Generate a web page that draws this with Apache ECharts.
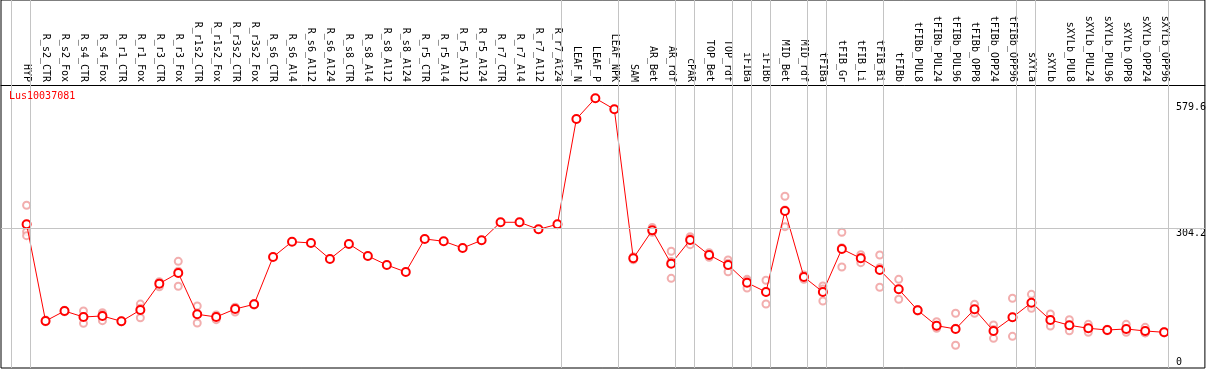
<!DOCTYPE html>
<html><head><meta charset="utf-8">
<script src="https://cdn.jsdelivr.net/npm/echarts@6.0.0/dist/echarts.min.js"></script>
<style>html,body{margin:0;padding:0;background:#fff}#c{width:1209px;height:370px}</style>
</head><body><div id="c"></div>
<script>
const geneId = 'Lus10037081';
const categories = ['HYP','R_s2_CTR','R_s2_Fox','R_s4_CTR','R_s4_Fox','R_r1_CTR','R_r1_Fox','R_r3_CTR','R_r3_Fox','R_r1s2_CTR','R_r1s2_Fox','R_r3s2_CTR','R_r3s2_Fox','R_s6_CTR','R_s6_Al4','R_s6_Al12','R_s6_Al24','R_s8_CTR','R_s8_Al4','R_s8_Al12','R_s8_Al24','R_r5_CTR','R_r5_Al4','R_r5_Al12','R_r5_Al24','R_r7_CTR','R_r7_Al4','R_r7_Al12','R_r7_Al24','LEAF_N','LEAF_P','LEAF_NPK','SAM','AR_Bet','AR_rdf','cPAR','TOP_Bet','TOP_rdf','iFIBa','iFIBb','MID_Bet','MID_rdf','tFIBa','tFIB_Gr','tFIB_Li','tFIB_Bi','tFIBb','tFIBb_PUL8','tFIBb_PUL24','tFIBb_PUL96','tFIBb_OPP8','tFIBb_OPP24','tFIBb_OPP96','sXYLa','sXYLb','sXYLb_PUL8','sXYLb_PUL24','sXYLb_PUL96','sXYLb_OPP8','sXYLb_OPP24','sXYLb_OPP96'];
const means = [313, 100.9, 122.8, 109.7, 111.9, 100.2, 125, 182.8, 206.2, 115.6, 109.7, 127.2, 137.5, 241.3, 274.8, 272, 236.9, 269.8, 243.5, 223.7, 208.4, 280.8, 275.7, 261, 277.9, 317.4, 317.4, 302, 313, 544, 589.4, 565.2, 238.4, 299.8, 226.6, 278.6, 245.7, 223.7, 184.9, 164.5, 342.2, 197.4, 164.5, 258.8, 238.4, 212.8, 170.4, 124.4, 90.6, 83.4, 126.6, 79, 109, 141, 103.1, 91.5, 84.9, 81.2, 83.4, 79, 76.1];
const replicates = [
  [354.7, 296.8, 288], [99, 101, 103], [121, 123, 124.5], [122.8, 110.5, 95.8], [119, 115, 101.6],
  [99, 100.5, 101], [138, 129, 108], [187, 185, 176], [231.8, 210, 177], [133.8, 116.5, 96.5],
  [114, 111, 103.8], [131, 130, 120.6], [139, 137.5, 136],
  [], [], [], [], [], [], [], [], [], [], [], [], [], [], [], [],
  [], [], [],
  [242, 238, 235], [306, 298, 295.5], [253.8, 231.5, 194.5], [285.9, 281.6, 268.3], [250.7, 245.8, 240.6],
  [234.7, 227.4, 209], [192.3, 189.1, 173.3], [190.2, 165.1, 138.2], [374.4, 344.4, 307.8], [201.8, 198.1, 192.3],
  [177.7, 171, 144.8], [295.5, 261.6, 219.3], [246.3, 240.1, 228.8], [245.7, 217.8, 174.8], [192.3, 170.4, 148.5],
  [126, 124.4, 122.8], [99.4, 87.5, 84.9], [117.8, 84.8, 47.6], [137.5, 124.5, 117.8], [92.1, 82, 62.9],
  [150.7, 109, 67.3], [159.4, 134.9, 128.7], [116.3, 103.1, 89.9], [103.8, 91, 79.6], [93.6, 85, 76.1],
  [83, 81.2, 79.4], [93.6, 80.5, 76.1], [87, 75.2, 74.8], [77.5, 76.1, 74.7]
];
const groupBreaks = [-1, 0, 28, 31, 34, 35, 37, 38, 39, 41, 42, 45, 52, 53, 60];
const yTickValues = [0, 304.2, 579.6];
const refLineValue = 304.2;

const FONT = 'DejaVu Sans Mono';
const meanData = means.map((v, i) => [i, v]);
const repData = [];
replicates.forEach((arr, i) => arr.forEach(v => repData.push([i, v])));

const chart = echarts.init(document.getElementById('c'), null, {renderer: 'canvas'});
chart.setOption({
  animation: false,
  backgroundColor: '#fff',
  title: {
    text: geneId, left: 9, top: 91, padding: 0,
    textStyle: {color: '#ff0000', fontSize: 10, fontFamily: FONT, fontWeight: 'normal'}
  },
  grid: {left: 1, right: 2, top: 0, bottom: 2, show: true, borderColor: '#000', borderWidth: 1, backgroundColor: 'transparent'},
  xAxis: {
    type: 'value', min: -1.35, max: 62.15, position: 'top', offset: -85,
    axisLine: {show: true, onZero: false, lineStyle: {color: '#000', width: 1}},
    axisTick: {show: false},
    splitLine: {show: false},
    axisLabel: {
      customValues: categories.map((c, i) => i),
      formatter: v => categories[Math.round(v)] || '',
      rotate: 90, margin: 3, color: '#000', fontSize: 10, fontFamily: FONT,
      showMinLabel: true, showMaxLabel: true, hideOverlap: false
    }
  },
  yAxis: {
    type: 'value', min: -2.19, max: 804.9, position: 'right', offset: -37,
    axisLine: {show: false}, axisTick: {show: false}, splitLine: {show: false},
    axisLabel: {
      customValues: yTickValues, margin: 8, color: '#000', fontSize: 10, fontFamily: FONT,
      verticalAlign: 'top', verticalAlignMinLabel: 'bottom', align: 'left'
    }
  },
  series: [
    {
      type: 'scatter', data: repData, z: 2,
      symbol: 'emptyCircle', symbolSize: 7,
      itemStyle: {color: '#ef9a9a', borderColor: '#ef9a9a', borderWidth: 1},
      markLine: {
        silent: true, symbol: 'none', animation: false,
        label: {show: false},
        lineStyle: {color: '#c4c4c4', type: 'solid', width: 1},
        data: groupBreaks.map(b => ({xAxis: b + 0.2})).concat([{yAxis: refLineValue}])
      }
    },
    {
      type: 'line', data: meanData, z: 3,
      symbol: 'emptyCircle', symbolSize: 8,
      lineStyle: {color: '#ff0000', width: 1},
      itemStyle: {color: '#ff0000', borderColor: '#ff0000', borderWidth: 1.2}
    }
  ]
});
</script>
</body></html>
